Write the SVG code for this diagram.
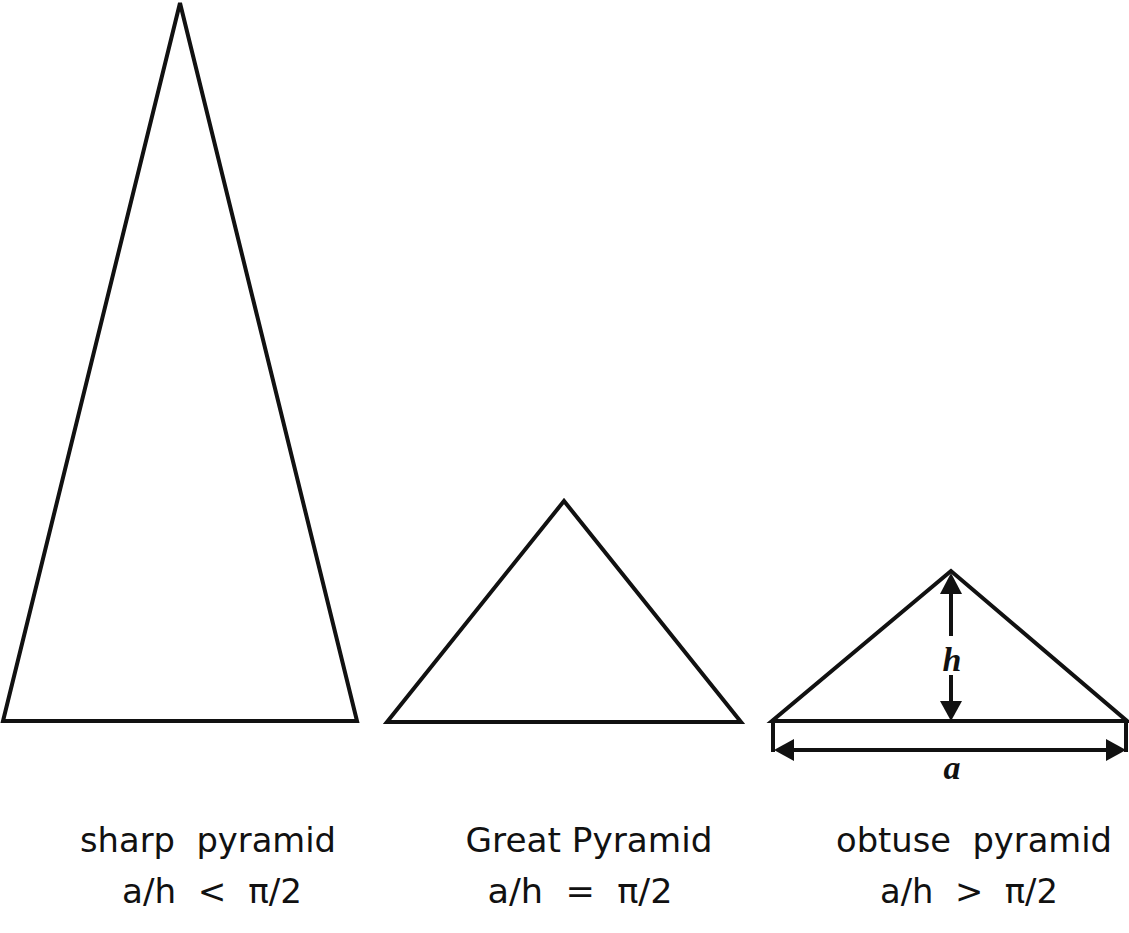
<svg xmlns="http://www.w3.org/2000/svg" width="1129" height="933" viewBox="0 0 1129 933">
<defs>
<style>
.tri{fill:none;stroke:#111;stroke-width:4;stroke-linejoin:miter}
.dim{fill:none;stroke:#111;stroke-width:4}
.head{fill:#111}
.lbl{font-family:"Comic Sans MS","DejaVu Sans",sans-serif;font-size:33px;fill:#111;text-anchor:middle;white-space:pre}
.var{font-family:"Liberation Serif",serif;font-style:italic;font-weight:bold;font-size:34px;fill:#111;text-anchor:middle}
</style>
</defs>
<rect width="1129" height="933" fill="#fff"/>
<g id="sharp">
<polygon class="tri" points="180,3 3,721 357,721"/>
<text class="lbl" x="208" y="852" textLength="256" lengthAdjust="spacingAndGlyphs" xml:space="preserve">sharp  pyramid</text>
<text class="lbl" x="212" y="903" textLength="180" lengthAdjust="spacingAndGlyphs" xml:space="preserve">a/h  &lt;  π/2</text>
</g>
<g id="great">
<polygon class="tri" points="564,501 387,722 741,722"/>
<text class="lbl" x="589" y="852" textLength="247" lengthAdjust="spacingAndGlyphs">Great Pyramid</text>
<text class="lbl" x="580" y="903" textLength="185" lengthAdjust="spacingAndGlyphs" xml:space="preserve">a/h  =  π/2</text>
</g>
<g id="obtuse">
<polygon class="tri" points="951,571 772,721 1127,721"/>
<text class="lbl" x="974" y="852" textLength="276" lengthAdjust="spacingAndGlyphs" xml:space="preserve">obtuse  pyramid</text>
<text class="lbl" x="969" y="903" textLength="178" lengthAdjust="spacingAndGlyphs" xml:space="preserve">a/h  &gt;  π/2</text>
<text class="var" x="952" y="671">h</text>
<text class="var" x="952" y="779">a</text>
</g>
<g id="connectors">
<line class="dim" x1="951" y1="590" x2="951" y2="636"/>
<polygon class="head" points="951,573 940,594 962,594"/>
<line class="dim" x1="951" y1="675" x2="951" y2="704"/>
<polygon class="head" points="951,721 940,701 962,701"/>
<line class="dim" x1="773" y1="721" x2="773" y2="752"/>
<line class="dim" x1="1126" y1="721" x2="1126" y2="752"/>
<line class="dim" x1="790" y1="750" x2="1110" y2="750"/>
<polygon class="head" points="774,750 794,739 794,761"/>
<polygon class="head" points="1126,750 1106,739 1106,761"/>
</g>
</svg>
